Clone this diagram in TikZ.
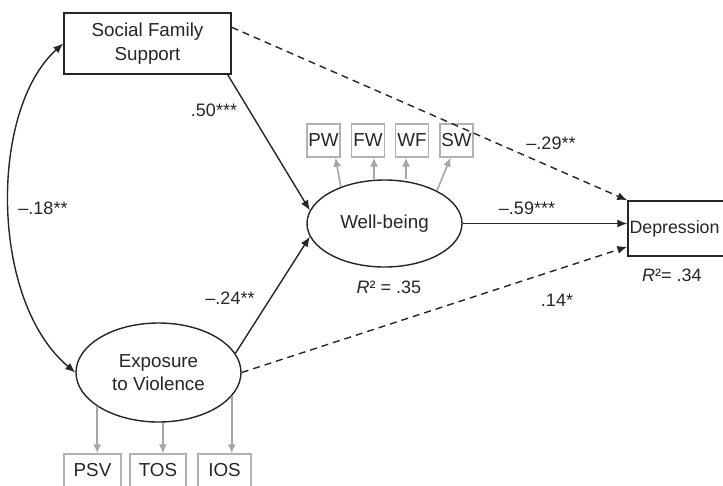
\documentclass[tikz,border=0pt]{standalone}
\usepackage{fontspec}
\setmainfont{Liberation Sans}
\usetikzlibrary{arrows.meta,shapes.geometric}
\begin{document}
\begin{tikzpicture}[x=1pt,y=-1pt,
  every node/.style={font=\fontsize{18.8}{23.5}\selectfont, inner sep=0pt, text=black!85},
  box/.style={draw=black!85, line width=1.4pt, rectangle},
  latent/.style={draw=black!85, line width=1.4pt, ellipse},
  ind/.style={draw=black!30, line width=1.3pt, rectangle, minimum height=33pt},
  pathar/.style={draw=black!85, line width=1.4pt, -{Latex[length=10pt,width=8pt]}},
  dsh/.style={dash pattern=on 7pt off 5pt},
  load/.style={draw=black!35, line width=1.6pt, -{Latex[length=9pt,width=8pt]}},
  lab/.style={font=\fontsize{18}{21}\selectfont}
]
\useasboundingbox (0,0) rectangle (723,485);
\fill[white] (0,0) rectangle (723,485);

% main constructs
\node[box, minimum width=167pt, minimum height=61pt, align=center] (sfs) at (147.5,43.5) {Social Family\\Support};
\node[latent, minimum width=155pt, minimum height=87pt] (wb) at (384.5,223.5) {Well-being};
\node[latent, minimum width=165pt, minimum height=99pt, align=center] (ev) at (158.5,372.5) {Exposure\\to Violence};
\node[box, minimum width=100pt, minimum height=55pt, text width=97pt, align=left,
      font=\fontsize{17.8}{21}\selectfont] (dep) at (678,228.5) {Depression};

% indicators
\node[ind, minimum width=33pt] (pw) at (323.5,140.5) {PW};
\node[ind, minimum width=33pt] (fw) at (368,140.5) {FW};
\node[ind, minimum width=33pt] (wf) at (412,140.5) {WF};
\node[ind, minimum width=33pt] (sw) at (456.5,140.5) {SW};
\node[ind, minimum width=57pt] (psv) at (92.5,470.5) {PSV};
\node[ind, minimum width=56pt] (tos) at (158,470.5) {TOS};
\node[ind, minimum width=53pt] (ios) at (224.5,470.5) {IOS};

% structural paths
\draw[pathar] ([xshift=-4pt]sfs.south east) -- (wb.170);
\draw[pathar] (ev.14) -- (wb.190);
\draw[pathar] (wb.east) -- (wb.east -| dep.west);
\draw[pathar, dsh] ([yshift=-15pt]sfs.north east) -- (dep.north west);
\draw[pathar, dsh] (ev.east) -- ([yshift=10pt]dep.south west);
\draw[draw=black!85, line width=1.4pt, {Latex[length=10pt,width=8pt]}-{Latex[length=10pt,width=8pt]}]
  (sfs.west) .. controls +(-74,66) and +(-86,-72) .. (ev.west);

% loadings
\draw[load] (wb.140) -- ([xshift=12pt]pw.south);
\draw[load] ([xshift=6pt]fw.south |- wb.north) -- ([xshift=6pt]fw.south);
\draw[load] ([xshift=-6pt]wf.south |- wb.north) -- ([xshift=-6pt]wf.south);
\draw[load] (wb.32) -- ([xshift=-6pt]sw.south);
\draw[load] (ev.209) -- (ev.209 |- psv.north);
\draw[load] (ev.275) -- (ev.275 |- tos.north);
\draw[load] (ev.342) -- (ev.342 |- ios.north);

% labels
\node[lab] (l50) at (214,110) {.50***};
\node[lab] (l29) at (551,143) {–.29**};
\node[lab] (l59) at (527,208) {–.59***};
\node[lab] (l24) at (230,298) {–.24**};
\node[lab] (l14) at (557,300) {.14*};
\node[lab] (l18) at (43,208) {–.18**};
\node[lab] (r35) at (389,287) {\textit{R}² = .35};
\node[lab] (r34) at (672,275) {\textit{R}²= .34};
\end{tikzpicture}
\end{document}
